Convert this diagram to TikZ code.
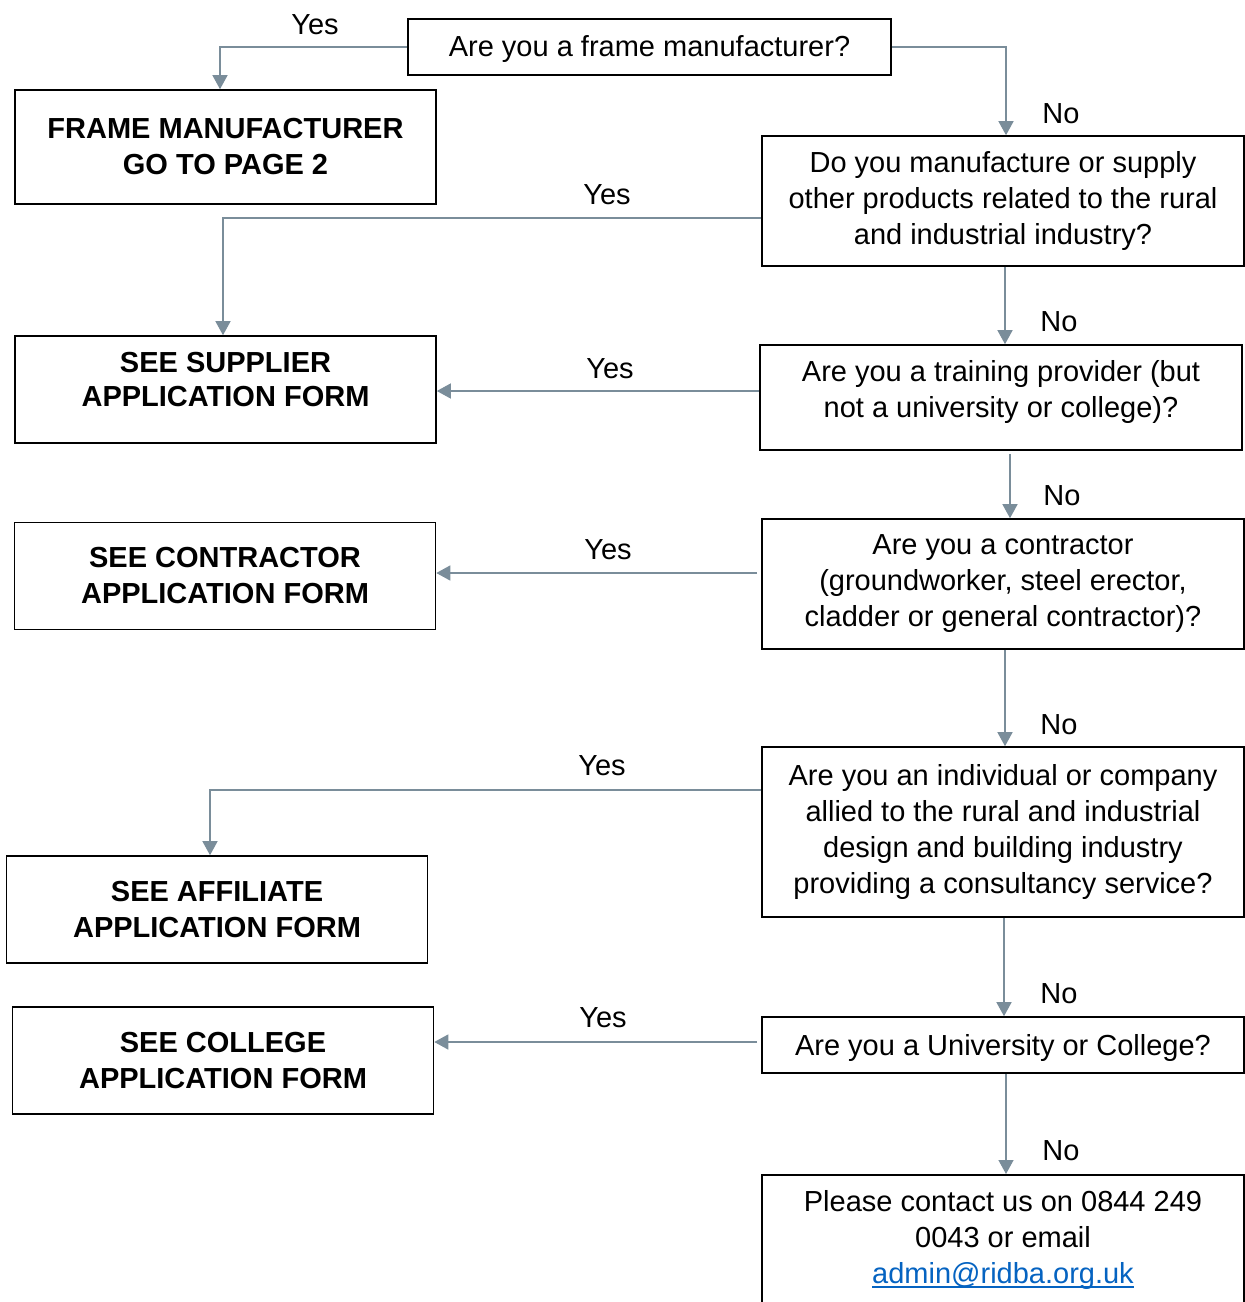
\documentclass[tikz,border=0pt]{standalone}
\usepackage{fontspec}
\setmainfont{Liberation Sans}
\usetikzlibrary{arrows.meta}
\definecolor{conncol}{HTML}{7A8D9A}
\definecolor{linkcol}{HTML}{0563C1}
\newcommand{\fsz}{\fontsize{29}{36}\selectfont}
\newcommand{\topstrut}{\rule{0pt}{26pt}}
\newcommand{\thickul}[1]{\setbox0\hbox{#1}\rlap{\rule[-4.5pt]{\wd0}{2pt}}\box0}
\begin{document}
\begin{tikzpicture}[x=1pt,y=-1pt,
  qbox/.style={draw=black, line width=1.6pt, align=center, inner sep=0pt, font=\fsz, minimum width=482pt, execute at begin node=\topstrut},
  abox/.style={draw=black, line width=1.6pt, align=center, inner sep=0pt, font=\fsz\bfseries, minimum width=421pt, minimum height=107pt, execute at begin node=\topstrut},
  lbl/.style={font=\fsz, inner sep=0pt},
  conn/.style={draw=conncol, line width=1.4pt, -{Triangle[width=15pt,length=14pt]}}]
\useasboundingbox (0,0) rectangle (1245,1302);
% questions
\node[qbox, minimum width=483pt, minimum height=56pt] (q1) at (649.5,47) {Are you a frame manufacturer?};
\node[qbox, minimum height=130pt] (q2) at (1003,201) {Do you manufacture or supply\\other products related to the rural\\and industrial industry?};
\node[qbox, minimum height=105pt] (q3) at (1001,397.5) {Are you a training provider (but\\not a university or college)?\rule[-18pt]{0pt}{0pt}};
\node[qbox, minimum height=130pt] (q4) at (1003,584) {Are you a contractor\\(groundworker, steel erector,\\cladder or general contractor)?};
\node[qbox, minimum height=170pt] (q5) at (1003,832) {Are you an individual or company\\allied to the rural and industrial\\design and building industry\\providing a consultancy service?};
\node[qbox, minimum height=56pt] (q6) at (1003,1045) {Are you a University or College?};
\node[qbox, minimum height=130pt, anchor=north] (q7) at (1003,1174) {Please contact us on 0844 249\\0043 or email\\{\color{linkcol}\thickul{admin@ridba.org.uk}}};
% answers
\node[abox, minimum height=114pt] (a1) at (225.5,147) {FRAME MANUFACTURER\\GO TO PAGE 2};
\node[abox] (a2) at (225.5,389.5) {SEE SUPPLIER\\[-2pt]APPLICATION FORM\rule[-21pt]{0pt}{0pt}};
\node[abox] (a3) at (225,576) {SEE CONTRACTOR\\APPLICATION FORM};
\node[abox] (a4) at (217,909.5) {SEE AFFILIATE\\APPLICATION FORM};
\node[abox] (a5) at (223,1060.5) {SEE COLLEGE\\APPLICATION FORM};
% connectors
\draw[conn] (q1.west) -| ([xshift=-5.5pt]a1.north);
\draw[conn] (q1.east) -| ([xshift=3pt]q2.north);
\draw[conn] ([yshift=-17pt]q2.west) -| ([xshift=-2.5pt]a2.north);
\draw[conn] ([xshift=2pt]q2.south) -- ([xshift=2pt]q2.south |- q3.north);
\draw[conn] ([yshift=6.5pt]q3.west) -- ([yshift=6.5pt]q3.west -| a2.east);
\draw[conn] ([xshift=9pt,yshift=-3pt]q3.south) -- ([xshift=9pt]q3.south |- q4.north);
\draw[conn] ([yshift=11pt,xshift=-4pt]q4.west) -- ([yshift=11pt]q4.west -| a3.east);
\draw[conn] ([xshift=2pt]q4.south) -- ([xshift=2pt]q4.south |- q5.north);
\draw[conn] ([yshift=42pt]q5.west) -| ([xshift=-7pt]a4.north);
\draw[conn] ([xshift=1pt]q5.south) -- ([xshift=1pt]q5.south |- q6.north);
\draw[conn] ([yshift=3pt,xshift=-4pt]q6.west) -- ([yshift=3pt]q6.west -| a5.east);
\draw[conn] ([xshift=3pt]q6.south) -- ([xshift=3pt]q6.south |- q7.north);
% labels
\node[lbl] (y1) at (315,25) {Yes};
\node[lbl] (n1) at (1061,114) {No};
\node[lbl] (y2) at (607,195) {Yes};
\node[lbl] (n2) at (1059,322) {No};
\node[lbl] (y3) at (610,369) {Yes};
\node[lbl] (n3) at (1062,496) {No};
\node[lbl] (y4) at (608,550) {Yes};
\node[lbl] (n4) at (1059,725) {No};
\node[lbl] (y5) at (602,766) {Yes};
\node[lbl] (n5) at (1059,994) {No};
\node[lbl] (y6) at (603,1018) {Yes};
\node[lbl] (n6) at (1061,1151) {No};
\end{tikzpicture}
\end{document}
